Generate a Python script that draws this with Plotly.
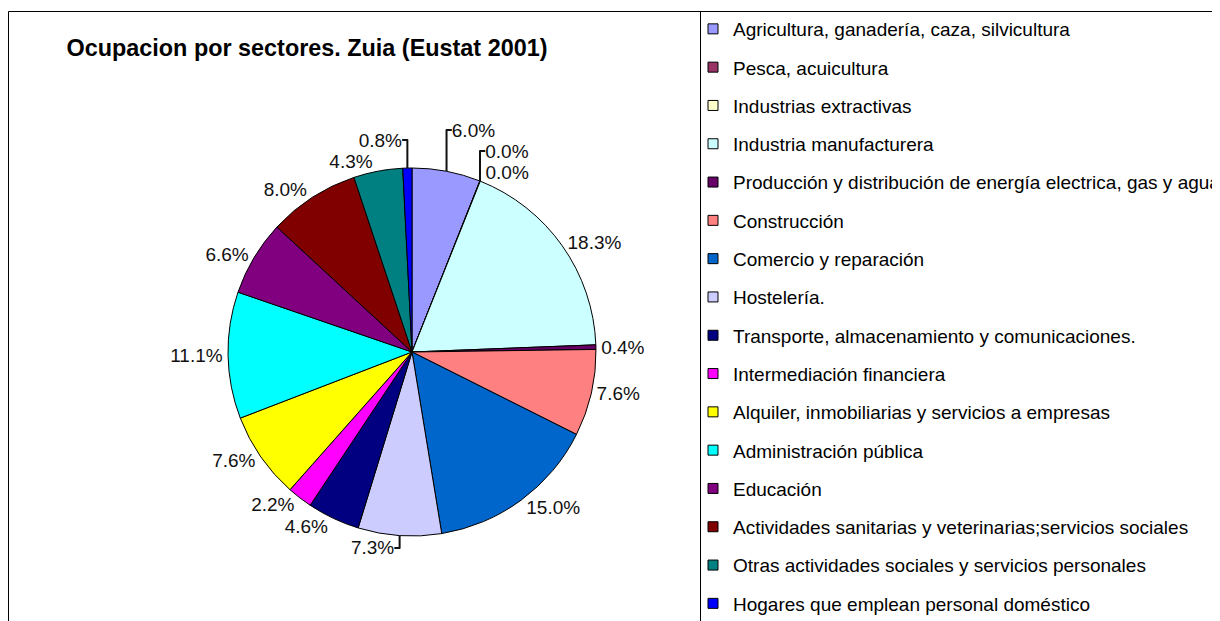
import plotly.graph_objects as go

sectors = [
    "Agricultura, ganadería, caza, silvicultura",
    "Pesca, acuicultura",
    "Industrias extractivas",
    "Industria manufacturera",
    "Producción y distribución de energía electrica, gas y agua",
    "Construcción",
    "Comercio y reparación",
    "Hostelería.",
    "Transporte, almacenamiento y comunicaciones.",
    "Intermediación financiera",
    "Alquiler, inmobiliarias y servicios a empresas",
    "Administración pública",
    "Educación",
    "Actividades sanitarias y veterinarias;servicios sociales",
    "Otras actividades sociales y servicios personales",
    "Hogares que emplean personal doméstico",
]
shares = [6.0, 0.03, 0.01, 18.3, 0.4, 7.6, 15.0, 7.3, 4.6, 2.2, 7.6, 11.1, 6.6, 8.0, 4.3, 0.8]
colors = ["#9999FF", "#993366", "#FFFFCC", "#CCFFFF", "#660066", "#FF8080",
          "#0066CC", "#CCCCFF", "#000080", "#FF00FF", "#FFFF00", "#00FFFF",
          "#800080", "#800000", "#008080", "#0000FF"]
title_text = "Ocupacion por sectores. Zuia (Eustat 2001)"

OFF = 8  # page offset of the figure inside the 1220x621 browser window
W, H = 1220 - OFF, 621 - OFF
font_family = "Liberation Sans, Arial, sans-serif"


def px(xs):
    return (xs - OFF) / W


def py(ys):
    return 1 - (ys - OFF) / H


fig = go.Figure()
fig.add_trace(go.Pie(
    labels=sectors,
    values=shares,
    sort=False,
    direction="clockwise",
    rotation=0,
    marker=dict(colors=colors, line=dict(color="black", width=1)),
    texttemplate="%{value:.1f}%",
    textposition="outside",
    textfont=dict(family=font_family, size=19, color="#111111"),
    showlegend=False,
    domain=dict(x=[px(228), px(596)], y=[py(536), py(168)]),
    hoverinfo="label+percent",
))

# legend entries (one group each so they can be spaced like the original)
for name, col in zip(sectors, colors):
    fig.add_trace(go.Scatter(
        x=[None], y=[None], mode="markers", name=name, legendgroup=name,
        marker=dict(symbol="square", size=10, color=col, line=dict(color="black", width=1)),
        hoverinfo="skip",
    ))

shapes = [
    dict(type="line", xref="paper", yref="paper", x0=px(8.5), x1=1, y0=py(11.5), y1=py(11.5),
         line=dict(color="black", width=1)),
    dict(type="line", xref="paper", yref="paper", x0=px(8.5), x1=px(8.5), y0=0, y1=py(11.5),
         line=dict(color="black", width=1)),
    dict(type="line", xref="paper", yref="paper", x0=px(700.5), x1=px(700.5), y0=0, y1=py(11.5),
         line=dict(color="black", width=1)),
]

fig.update_layout(
    width=W, height=H,
    margin=dict(l=0, r=0, t=0, b=0, autoexpand=False),
    paper_bgcolor="white", plot_bgcolor="white",
    font=dict(family=font_family, color="black"),
    title=dict(text="<b>" + title_text + "</b>", x=px(307), y=py(48),
               xanchor="center", yanchor="middle", xref="paper",
               font=dict(family=font_family, size=23.4, color="black")),
    xaxis=dict(visible=False), yaxis=dict(visible=False),
    showlegend=True,
    legend=dict(x=px(693), y=py(10), xanchor="left", yanchor="top",
                font=dict(family=font_family, size=19, color="black"),
                tracegroupgap=10.6, traceorder="grouped", bgcolor="rgba(0,0,0,0)"),
    shapes=shapes,
)

fig.write_html("out.html")
